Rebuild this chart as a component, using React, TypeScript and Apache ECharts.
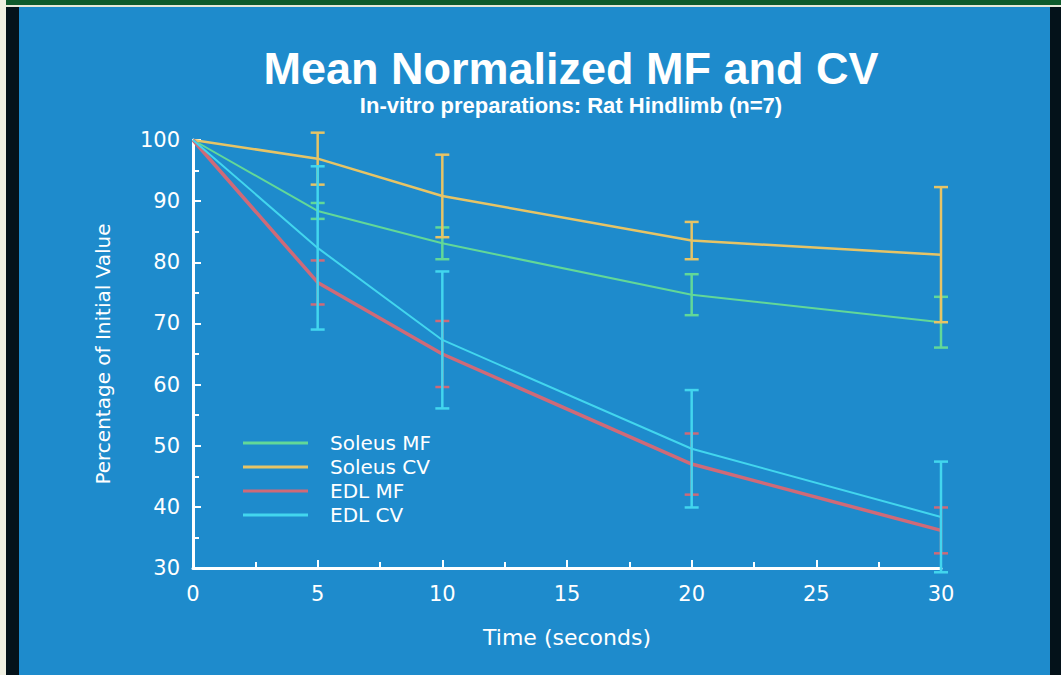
import React, { useEffect, useRef } from "react";
import * as echarts from "echarts";

const times = [0, 5, 10, 20, 30];
const soleusMF = [100, 88.4, 83.1, 74.7, 70.2];
const soleusMFErr = [0, 1.3, 2.6, 3.35, 4.15];
const soleusCV = [100, 96.95, 90.85, 83.55, 81.25];
const soleusCVErr = [0, 4.25, 6.75, 3.05, 11.05];
const edlMF = [100, 76.7, 65.0, 47.0, 36.15];
const edlMFErr = [0, 3.6, 5.4, 5.0, 3.75];
const edlCV = [100, 82.35, 67.3, 49.5, 38.35];
const edlCVErr = [0, 13.35, 11.2, 9.6, 9.05];

const seriesNames = ["Soleus MF", "Soleus CV", "EDL MF", "EDL CV"];
const seriesColors = ["#62d898", "#e6c466", "#cf6a78", "#42d6ee"];

const FONT = "'DejaVu Sans', sans-serif";

export default function App() {
  const ref = useRef<HTMLDivElement>(null);
  useEffect(() => {
    document.body.style.margin = "0";
    if (!ref.current) return;
    const chart = echarts.init(ref.current, null, { renderer: "svg" });

    const means = [soleusMF, soleusCV, edlMF, edlCV];
    const errs = [soleusMFErr, soleusCVErr, edlMFErr, edlCVErr];
    const widths = [2, 2.5, 3.5, 2];
    const order = [0, 1, 2, 3];

    const lineSeries = order.map((i) => ({
      name: seriesNames[i],
      type: "line",
      data: times.map((t, k) => [t, means[i][k]]),
      symbol: "none",
      lineStyle: { color: seriesColors[i], width: widths[i] },
      itemStyle: { color: seriesColors[i] },
      z: 3 + i,
    }));

    const errSeries = order.map((i) => ({
      name: seriesNames[i] + " err",
      type: "custom",
      clip: false,
      z: 3 + i,
      data: times
        .map((t, k) => [t, means[i][k] - errs[i][k], means[i][k] + errs[i][k], errs[i][k]])
        .filter((d) => d[3] > 0),
      renderItem: (params: any, api: any) => {
        const x = api.value(0);
        const lo = api.coord([x, api.value(1)]);
        const hi = api.coord([x, api.value(2)]);
        const hw = 7;
        const style = { stroke: seriesColors[i], lineWidth: 2.5 };
        return {
          type: "group",
          children: [
            { type: "line", shape: { x1: lo[0], y1: lo[1], x2: hi[0], y2: hi[1] }, style },
            { type: "line", shape: { x1: lo[0] - hw, y1: lo[1], x2: lo[0] + hw, y2: lo[1] }, style },
            { type: "line", shape: { x1: hi[0] - hw, y1: hi[1], x2: hi[0] + hw, y2: hi[1] }, style },
          ],
        };
      },
    }));

    const series: any[] = [];
    order.forEach((i) => {
      series.push(lineSeries[i]);
      series.push(errSeries[i]);
    });

    chart.setOption({
      animation: false,
      backgroundColor: "#1e8bcc",
      textStyle: { fontFamily: FONT },
      grid: { left: 193, right: 120, top: 140, bottom: 107 },
      legend: {
        data: seriesNames,
        orient: "vertical",
        left: 243,
        top: 433,
        padding: 0,
        icon: "rect",
        itemWidth: 65,
        itemHeight: 3,
        itemGap: 4,
        textStyle: { color: "#ffffff", fontSize: 20, lineHeight: 20, fontFamily: FONT, padding: [0, 0, 0, 17] },
      },
      xAxis: {
        type: "value",
        min: 0,
        max: 30,
        interval: 5,
        name: "Time (seconds)",
        nameLocation: "middle",
        nameGap: 58,
        nameTextStyle: { color: "#ffffff", fontSize: 22, fontFamily: FONT },
        axisLine: { show: true, lineStyle: { color: "#ffffff", width: 3 } },
        axisTick: { show: true, inside: true, length: 8, lineStyle: { color: "#ffffff", width: 2 } },
        minorTick: { show: true, splitNumber: 2, length: 6, lineStyle: { color: "#ffffff", width: 2 } },
        splitLine: { show: false },
        axisLabel: { color: "#ffffff", fontSize: 21, margin: 15, fontFamily: FONT },
      },
      yAxis: {
        type: "value",
        min: 30,
        max: 100,
        interval: 10,
        name: "Percentage of Initial Value",
        nameLocation: "middle",
        nameGap: 80,
        nameTextStyle: { color: "#ffffff", fontSize: 20, fontFamily: FONT },
        axisLine: { show: true, lineStyle: { color: "#ffffff", width: 3 } },
        axisTick: { show: true, inside: true, length: 8, lineStyle: { color: "#ffffff", width: 2 } },
        minorTick: { show: true, splitNumber: 2, length: 6, lineStyle: { color: "#ffffff", width: 2 } },
        splitLine: { show: false },
        axisLabel: { color: "#ffffff", fontSize: 21, margin: 13, fontFamily: FONT },
      },
      graphic: [
        { type: "rect", shape: { x: 0, y: 0, width: 1061, height: 5 }, style: { fill: "#0f5a2c" }, silent: true },
        { type: "rect", shape: { x: 0, y: 5, width: 1061, height: 2 }, style: { fill: "#e8e8d8" }, silent: true },
        { type: "rect", shape: { x: 0, y: 0, width: 6, height: 675 }, style: { fill: "#f0f0e2" }, silent: true },
        { type: "rect", shape: { x: 6, y: 7, width: 13, height: 668 }, style: { fill: "#04121a" }, silent: true },
        { type: "rect", shape: { x: 1050, y: 7, width: 11, height: 668 }, style: { fill: "#04121a" }, silent: true },
        {
          type: "text",
          x: 571,
          y: 68,
          style: {
            text: "Mean Normalized MF and CV",
            fill: "#ffffff",
            font: "bold 45px 'Liberation Sans', Arial, sans-serif",
            align: "center",
            verticalAlign: "middle",
          },
        },
        {
          type: "text",
          x: 571,
          y: 105,
          style: {
            text: "In-vitro preparations: Rat Hindlimb (n=7)",
            fill: "#ffffff",
            font: "bold 22px 'Liberation Sans', Arial, sans-serif",
            align: "center",
            verticalAlign: "middle",
          },
        },
      ],
      series,
    });

    return () => chart.dispose();
  }, []);

  return (
    <div
      ref={ref}
      style={{ position: "absolute", left: 0, top: 0, width: 1061, height: 675 }}
    />
  );
}
